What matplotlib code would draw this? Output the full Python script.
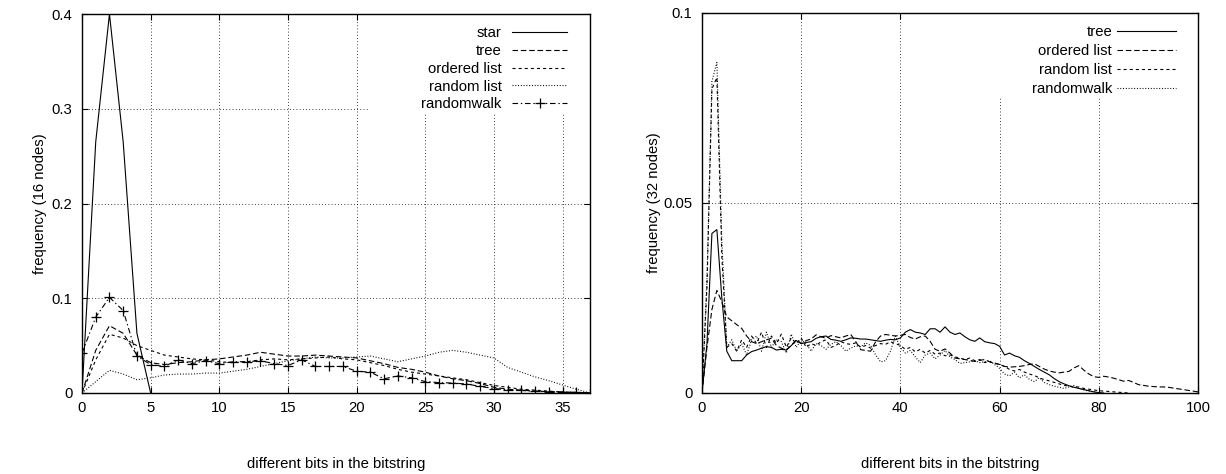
import matplotlib
matplotlib.use("Agg")
import matplotlib.pyplot as plt
import numpy as np
from matplotlib.patches import Rectangle

plt.rcParams["font.family"] = ["Liberation Sans", "DejaVu Sans"]
plt.rcParams["font.size"] = 10.7
plt.rcParams["lines.scale_dashes"] = False

# ---- left panel: 16 nodes ----
star_16 = [0, 0.265, 0.400, 0.265, 0.063, 0.0]
tree_16 = [0, 0.045, 0.071, 0.063, 0.040, 0.032, 0.030, 0.032, 0.033, 0.035,
           0.036, 0.038, 0.040, 0.043, 0.041, 0.039, 0.039, 0.040, 0.039, 0.038,
           0.037, 0.034, 0.031, 0.027, 0.025, 0.022, 0.018, 0.015, 0.013, 0.010,
           0.006, 0.004, 0.003, 0.002, 0.0015, 0.001, 0.0005, 0.0]
ordered_16 = [0, 0.035, 0.062, 0.058, 0.050, 0.045, 0.040, 0.038, 0.036, 0.035,
              0.033, 0.032, 0.033, 0.035, 0.036, 0.035, 0.036, 0.037, 0.038, 0.036,
              0.035, 0.032, 0.029, 0.025, 0.022, 0.020, 0.018, 0.016, 0.014, 0.011,
              0.008, 0.006, 0.004, 0.003, 0.002, 0.001, 0.0005, 0.0]
random_16 = [0, 0.012, 0.024, 0.020, 0.014, 0.016, 0.019, 0.020, 0.020, 0.021,
             0.021, 0.023, 0.025, 0.028, 0.031, 0.034, 0.036, 0.038, 0.037, 0.037,
             0.038, 0.039, 0.036, 0.033, 0.036, 0.039, 0.043, 0.045, 0.043, 0.040,
             0.037, 0.027, 0.022, 0.017, 0.013, 0.0085, 0.004, 0.0]
walk_16 = [0.042, 0.080, 0.101, 0.087, 0.039, 0.030, 0.028, 0.035, 0.031, 0.034,
           0.031, 0.033, 0.033, 0.034, 0.031, 0.029, 0.035, 0.028, 0.028, 0.028,
           0.023, 0.022, 0.015, 0.018, 0.016, 0.012, 0.011, 0.0105, 0.0095, 0.007,
           0.0046, 0.0035, 0.0028, 0.0018, 0.0012, 0.001, 0.0007, 0.0003]

# ---- right panel: 32 nodes ----
tree_32 = [0, 0.013, 0.042, 0.043, 0.025, 0.011, 0.0085, 0.0085, 0.0085, 0.0100,
           0.0109, 0.0113, 0.0118, 0.0122, 0.0120, 0.0113, 0.0115, 0.0113, 0.0125, 0.0138,
           0.0130, 0.0133, 0.0135, 0.0144, 0.0148, 0.0150, 0.0141, 0.0139, 0.0136, 0.0140,
           0.0145, 0.0144, 0.0142, 0.0142, 0.0140, 0.0138, 0.0136, 0.0139, 0.0141, 0.0140,
           0.0145, 0.0160, 0.0167, 0.0160, 0.0158, 0.0154, 0.0169, 0.0169, 0.0160, 0.0174,
           0.0160, 0.0154, 0.0158, 0.0148, 0.0140, 0.0136, 0.0145, 0.0135, 0.0132, 0.0130,
           0.0123, 0.0100, 0.0105, 0.0098, 0.0094, 0.0085, 0.0078, 0.0070, 0.0062, 0.0055,
           0.0048, 0.0038, 0.0030, 0.0024, 0.0019, 0.0015, 0.0012, 0.0009, 0.0006, 0.0003,
           0.0001, 0.0]
ordered_32 = [0, 0.012, 0.022, 0.027, 0.024, 0.020, 0.019, 0.018, 0.017, 0.0150,
              0.0135, 0.0130, 0.0135, 0.0140, 0.0144, 0.0125, 0.0118, 0.0113, 0.0125, 0.0140,
              0.0130, 0.0138, 0.0142, 0.0153, 0.0148, 0.0144, 0.0151, 0.0148, 0.0145, 0.0150,
              0.0154, 0.0135, 0.0114, 0.0112, 0.0110, 0.0135, 0.0150, 0.0154, 0.0152, 0.0150,
              0.0152, 0.0154, 0.0146, 0.0142, 0.0148, 0.0150, 0.0136, 0.0115, 0.0110, 0.0116,
              0.0105, 0.0092, 0.0090, 0.0088, 0.0086, 0.0083, 0.0086, 0.0088, 0.0082, 0.0079,
              0.0075, 0.0070, 0.0068, 0.0069, 0.0070, 0.0072, 0.0075, 0.0077, 0.0070, 0.0063,
              0.0058, 0.0055, 0.0053, 0.0055, 0.0057, 0.0066, 0.0072, 0.0060, 0.0050, 0.0043,
              0.0041, 0.0044, 0.0042, 0.0039, 0.0035, 0.0031, 0.0033, 0.0028, 0.0022, 0.0020,
              0.0018, 0.0017, 0.0016, 0.0016, 0.0015, 0.0013, 0.0011, 0.0009, 0.0007, 0.0005,
              0.0003]
random_32 = [0, 0.028, 0.080, 0.083, 0.036, 0.012, 0.013, 0.011, 0.014, 0.012,
             0.015, 0.013, 0.016, 0.012, 0.015, 0.013, 0.0155, 0.012, 0.0145, 0.013,
             0.0145, 0.012, 0.013, 0.0125, 0.0135, 0.014, 0.012, 0.0125, 0.0135, 0.013,
             0.0128, 0.0132, 0.012, 0.0125, 0.0118, 0.0125, 0.013, 0.0128, 0.0135, 0.013,
             0.0125, 0.0115, 0.012, 0.0108, 0.0115, 0.0105, 0.0112, 0.0102, 0.0105, 0.0098,
             0.0100, 0.0095, 0.0092, 0.0088, 0.0092, 0.0085, 0.0088, 0.0080, 0.0082, 0.0078,
             0.0075, 0.0070, 0.0062, 0.0058, 0.0062, 0.0055, 0.0050, 0.0046, 0.0040, 0.0035,
             0.0032, 0.0028, 0.0024, 0.0020, 0.0018, 0.0015, 0.0016, 0.0012, 0.0010, 0.0008,
             0.0006, 0.0005, 0.0004, 0.0003, 0.0002, 0.0001, 0.0]
walk_32 = [0, 0.030, 0.082, 0.087, 0.040, 0.012, 0.014, 0.011, 0.013, 0.010,
           0.014, 0.015, 0.011, 0.016, 0.012, 0.014, 0.0135, 0.0105, 0.0155, 0.012,
           0.014, 0.013, 0.011, 0.013, 0.0125, 0.0115, 0.0128, 0.0135, 0.0125, 0.011,
           0.0118, 0.0124, 0.0122, 0.0132, 0.0125, 0.0100, 0.0082, 0.0085, 0.0110, 0.0150,
           0.0120, 0.0105, 0.0112, 0.0095, 0.0080, 0.0100, 0.0105, 0.0090, 0.0100, 0.0112,
           0.0095, 0.0088, 0.0078, 0.0080, 0.0082, 0.0085, 0.0080, 0.0082, 0.0085, 0.0075,
           0.0065, 0.0050, 0.0045, 0.0055, 0.0040, 0.0048, 0.0036, 0.0030, 0.0040, 0.0028,
           0.0022, 0.0018, 0.0015, 0.0012, 0.0016, 0.0020, 0.0012, 0.0008, 0.0005, 0.0003,
           0.0]

x_label = "different bits in the bitstring"

# line styles (dash patterns in points)
SOLID = None
LONG = (4.0, 2.0)
SHORT = (2.2, 2.2)
DOT = (0.7, 1.3)
DASHDOT = (4.0, 2.0, 1.0, 2.0)


def draw(ax, y, label, dashes, **kw):
    line, = ax.plot(np.arange(len(y)), y, color="black", lw=0.8, label=label, zorder=3, **kw)
    if dashes is not None:
        line.set_dashes(dashes)
    return line


def style_axes(ax, xmax, ymax, xticks, yticks, yfmt):
    ax.set_xlim(0, xmax)
    ax.set_ylim(0, ymax)
    ax.set_xticks(xticks)
    ax.set_yticks(yticks)
    ax.set_yticklabels([yfmt(v) for v in yticks])
    ax.tick_params(direction="in", length=4.5, width=0.8, top=True, right=True)
    ax.tick_params(axis="x", pad=6)
    ax.tick_params(axis="y", pad=7)
    ax.set_axisbelow(True)
    ax.grid(True, color="black", lw=0.6, linestyle=(0, (0.6, 1.7)))
    for s in ax.spines.values():
        s.set_linewidth(1.0)


def fmt16(v):
    return "0" if v == 0 else f"{v:.1f}"


def fmt32(v):
    return "0" if v == 0 else f"{v:g}"


fig = plt.figure(figsize=(12.26, 4.74), dpi=100)
W, H = 1226, 474
ax1 = fig.add_axes([82 / W, 81 / H, 508 / W, 379 / H])
ax2 = fig.add_axes([702 / W, 81 / H, 496 / W, 380 / H])

# left
draw(ax1, star_16, "star", SOLID)
draw(ax1, tree_16, "tree", LONG)
draw(ax1, ordered_16, "ordered list", SHORT)
draw(ax1, random_16, "random list", DOT)
draw(ax1, walk_16, "randomwalk", DASHDOT, marker="+", ms=7, mew=0.9)
style_axes(ax1, 37, 0.4, np.arange(0, 36, 5), [0, 0.1, 0.2, 0.3, 0.4], fmt16)
ax1.add_patch(Rectangle(((370 - 82) / 508, 1 - 99 / 379), 1 - (370 - 82) / 508, 99 / 379,
                        transform=ax1.transAxes, facecolor="white", edgecolor="none", zorder=1))
ax1.legend(loc="upper right", bbox_to_anchor=((567 - 82) / 508, 1 - 12 / 379), frameon=False,
           markerfirst=False, handlelength=3.7, handletextpad=0.7, labelspacing=0.26,
           borderpad=0, borderaxespad=0, numpoints=1)
ax1.set_ylabel("frequency (16 nodes)")
ax1.yaxis.set_label_coords((47 - 82) / 508, 0.5)
ax1.set_xlabel(x_label, labelpad=30)

# right
draw(ax2, tree_32, "tree", SOLID)
draw(ax2, ordered_32, "ordered list", LONG)
draw(ax2, random_32, "random list", SHORT)
draw(ax2, walk_32, "randomwalk", DOT)
style_axes(ax2, 100, 0.1, np.arange(0, 101, 20), [0, 0.05, 0.1], fmt32)
ax2.add_patch(Rectangle(((979 - 702) / 496, 1 - 85 / 380), 1 - (979 - 702) / 496, 85 / 380,
                        transform=ax2.transAxes, facecolor="white", edgecolor="none", zorder=1))
ax2.legend(loc="upper right", bbox_to_anchor=((1176 - 702) / 496, 1 - 12 / 380), frameon=False,
           markerfirst=False, handlelength=4.0, handletextpad=0.3, labelspacing=0.33,
           borderpad=0, borderaxespad=0)
ax2.set_ylabel("frequency (32 nodes)")
ax2.yaxis.set_label_coords((661 - 702) / 496, 0.5)
ax2.set_xlabel(x_label, labelpad=30)

fig.savefig("out.png", dpi=100)
